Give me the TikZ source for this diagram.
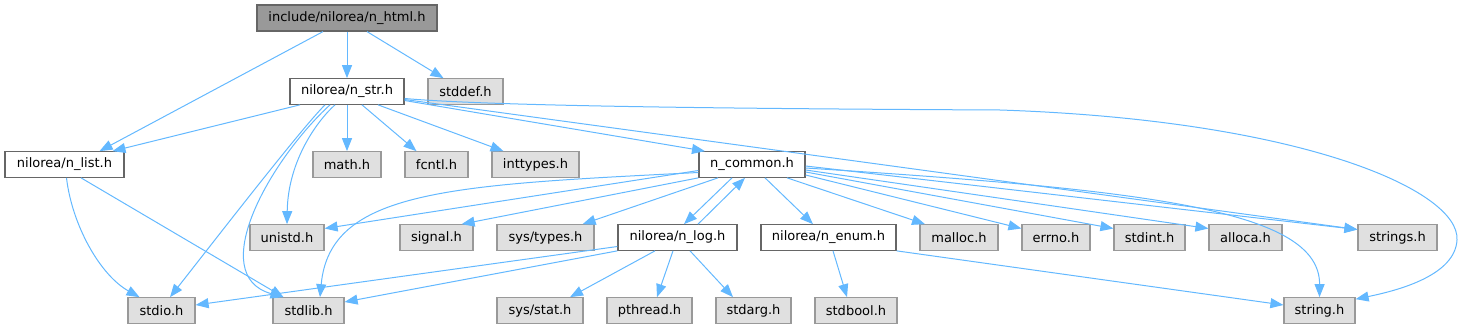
\documentclass[tikz,border=0pt]{standalone}
\usepackage{fontspec}
\setmainfont{DejaVu Sans}
\usetikzlibrary{arrows.meta}
\definecolor{edgec}{HTML}{63B8FF}
\definecolor{docborder}{HTML}{666666}
\definecolor{extborder}{HTML}{999999}
\definecolor{extfill}{HTML}{E0E0E0}
\definecolor{topfill}{HTML}{999999}
\begin{document}
\begin{tikzpicture}[x=1pt,y=-1pt,
  base/.style={minimum height=25.5pt, inner sep=0pt, line width=1.2pt,
    font=\fontsize{13}{15}\selectfont, text=black},
  doc/.style={base, draw=docborder, fill=white},
  ext/.style={base, draw=extborder, fill=extfill},
  topnode/.style={base, draw=docborder, fill=topfill},
  e/.style={draw=edgec, line width=1pt, -{Triangle[length=13pt,width=10pt]}}]
\useasboundingbox (0,0) rectangle (1463,329);
% row 0
\node[topnode, minimum width=180pt, minimum height=26pt] (html) at (347,18) {include/nilorea/n\_html.h};
% row 1
\node[doc, minimum width=114pt] (nstr) at (347,91.5) {nilorea/n\_str.h};
\node[ext, minimum width=75pt] (stddef) at (465.5,91.5) {stddef.h};
% row 2
\node[doc, minimum width=119pt] (nlist) at (64.5,164.5) {nilorea/n\_list.h};
\node[ext, minimum width=68pt] (math) at (347,164.5) {math.h};
\node[ext, minimum width=63pt] (fcntl) at (436.5,164.5) {fcntl.h};
\node[ext, minimum width=87pt] (inttypes) at (535.5,164.5) {inttypes.h};
\node[doc, minimum width=106pt] (ncommon) at (752,164.5) {n\_common.h};
% row 3
\node[ext, minimum width=74pt] (unistd) at (287,237.5) {unistd.h};
\node[ext, minimum width=73pt] (signal) at (436.5,237.5) {signal.h};
\node[ext, minimum width=97pt] (systypes) at (545.5,237.5) {sys/types.h};
\node[doc, minimum width=119pt] (nlog) at (677.5,237.5) {nilorea/n\_log.h};
\node[doc, minimum width=135pt] (nenum) at (828.5,237.5) {nilorea/n\_enum.h};
\node[ext, minimum width=78pt] (malloc) at (959,237.5) {malloc.h};
\node[ext, minimum width=68pt] (errno) at (1056,237.5) {errno.h};
\node[ext, minimum width=71pt] (stdint) at (1149.5,237.5) {stdint.h};
\node[ext, minimum width=73pt] (alloca) at (1245.5,237.5) {alloca.h};
\node[ext, minimum width=79pt] (strings) at (1397.5,237.5) {strings.h};
% row 4
\node[ext, minimum width=67pt] (stdio) at (161.5,310.5) {stdio.h};
\node[ext, minimum width=71pt] (stdlib) at (308.5,310.5) {stdlib.h};
\node[ext, minimum width=86pt] (sysstat) at (540,310.5) {sys/stat.h};
\node[ext, minimum width=85pt] (pthread) at (649.5,310.5) {pthread.h};
\node[ext, minimum width=75pt] (stdarg) at (753.5,310.5) {stdarg.h};
\node[ext, minimum width=82pt] (stdbool) at (856,310.5) {stdbool.h};
\node[ext, minimum width=71pt] (string) at (1319.5,310.5) {string.h};

% edges from n_html
\draw[e] ([xshift=-24pt]html.south) -- ([xshift=35pt]nlist.north);
\draw[e] (html.south) -- (nstr.north);
\draw[e] ([xshift=20pt]html.south) -- ([xshift=-22pt]stddef.north);

% edges from n_str
\draw[e] ([xshift=-47pt]nstr.south) -- ([xshift=48pt]nlist.north);
\draw[e] ([xshift=-22pt]nstr.south) .. controls (300,130) and (215,240) .. ([xshift=8.5pt]stdio.north);
\draw[e] ([xshift=-17pt]nstr.south) .. controls (270,160) and (205,275) .. ([xshift=-25pt]stdlib.north);
\draw[e] ([xshift=-12pt]nstr.south) .. controls (318,120) and (288,160) .. (unistd.north);
\draw[e] (nstr.south) -- (math.north);
\draw[e] ([xshift=15pt]nstr.south) -- ([xshift=-20pt]fcntl.north);
\draw[e] ([xshift=31pt]nstr.south) -- ([xshift=-32pt]inttypes.north);
\draw[e] ([yshift=-9pt]nstr.east) -- ([xshift=-47pt]ncommon.north);
\draw[e] ([yshift=-8pt]nstr.east) -- ([yshift=8pt]strings.west);
\draw[e] ([yshift=-7pt]nstr.east) .. controls (500,107) and (800,109) .. (1000,110)
  .. controls (1300,120) and (1460,190) .. (1457,240)
  .. controls (1455,275) and (1400,290) .. ([yshift=-2pt]string.north east);

% edges from n_list
\draw[e] ([xshift=2pt]nlist.south) .. controls (72,225) and (100,275) .. ([xshift=-22pt]stdio.north);
\draw[e] ([xshift=16.5pt]nlist.south) -- ([xshift=-25pt]stdlib.north);

% edges from n_common
\draw[e] ([yshift=-6pt]ncommon.west) -- ([yshift=9pt]unistd.east);
\draw[e] ([yshift=-8pt]ncommon.west) .. controls (450,185) and (330,190) .. ([xshift=11.5pt]stdlib.north);
\draw[e] (ncommon.south west) -- ([xshift=-12pt]signal.north east);
\draw[e] ([xshift=-34pt]ncommon.south) -- ([xshift=-12pt]systypes.north east);
\draw[e] ([xshift=-20pt]ncommon.south) -- ([xshift=6.5pt]nlog.north);
\draw[e] ([xshift=20.5pt]nlog.north) -- ([xshift=-7pt]ncommon.south);
\draw[e] ([xshift=13pt]ncommon.south) -- ([xshift=-15.5pt]nenum.north);
\draw[e] ([xshift=35pt]ncommon.south) -- ([xshift=-34pt]malloc.north);
\draw[e] ([yshift=-10.5pt]ncommon.east) -- ([yshift=9pt]errno.west);
\draw[e] ([yshift=-7.5pt]ncommon.east) -- ([yshift=9pt]stdint.west);
\draw[e] ([yshift=-5.5pt]ncommon.east) -- ([yshift=9pt]alloca.west);
\draw[e] ([yshift=-1.5pt]ncommon.east) -- ([yshift=8pt]strings.west);
\draw[e] ([yshift=-3.5pt]ncommon.east) .. controls (1150,190) and (1320,210) .. (string.north);

% edges from n_log
\draw[e] ([yshift=-9pt]nlog.west) -- ([yshift=5.5pt]stdio.east);
\draw[e] (nlog.south west) -- ([yshift=8.5pt]stdlib.east);
\draw[e] ([xshift=-22.5pt]nlog.south) -- ([xshift=30pt]sysstat.north);
\draw[e] ([xshift=-4.5pt]nlog.south) -- ([xshift=7.5pt]pthread.north);
\draw[e] ([xshift=12.5pt]nlog.south) -- ([xshift=-20.5pt]stdarg.north);

% edges from n_enum
\draw[e] ([xshift=4.5pt]nenum.south) -- ([xshift=-9pt]stdbool.north);
\draw[e] (nenum.south east) -- ([yshift=5.5pt]string.west);
\end{tikzpicture}
\end{document}
